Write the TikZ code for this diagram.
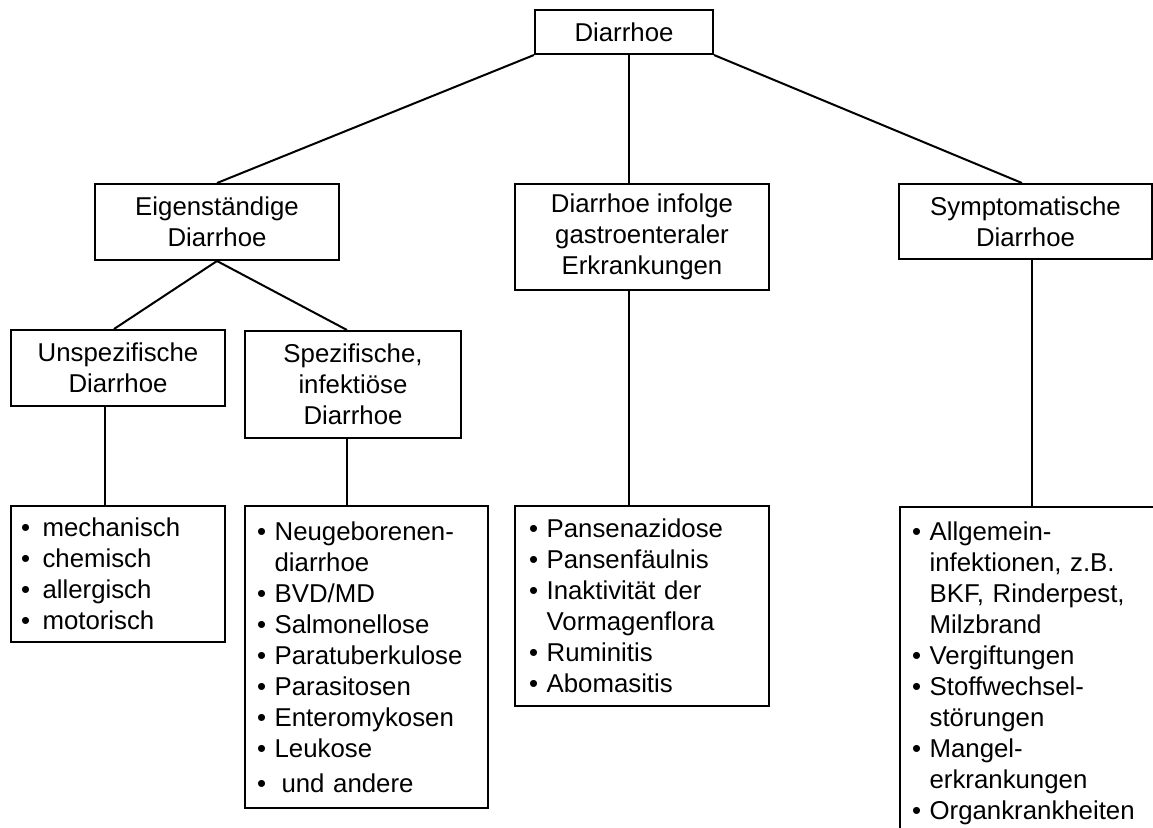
\documentclass[tikz,border=0pt]{standalone}
\usepackage{fontspec}
\setmainfont{Liberation Sans}

\newcommand{\bt}{\textbullet\ }
\newcommand{\bi}{\hphantom{\textbullet\ }}

\tikzset{
	box/.style={draw, line width=1pt, align=center, inner sep=0pt},
	liste/.style={draw, line width=1pt, align=left, inner ysep=0pt},
	conn/.style={line width=1pt}
}

\begin{document}
\begin{tikzpicture}[x=0.5pt,y=-0.5pt,font=\fontsize{12.9}{15.5}\selectfont]
	\useasboundingbox (0,0) rectangle (1153,827);
	\clip (0,0) rectangle (1153,827);

	% Kopf und Gruppen
	\node[box, minimum width=89pt, minimum height=22pt] (top) at (624,32) {Diarrhoe};
	\node[box, minimum width=122pt, minimum height=38pt] (eig) at (217,222) {Eigenständige\\Diarrhoe};
	\node[box, minimum width=127pt, minimum height=53pt] (gas) at (642,237) {Diarrhoe infolge\\gastroenteraler\\Erkrankungen};
	\node[box, minimum width=126.5pt, minimum height=37.5pt] (sym) at (1025.5,221.5) {Symptomatische\\Diarrhoe};
	\node[box, minimum width=107pt, minimum height=38pt] (uns) at (118,368) {Unspezifische\\Diarrhoe};
	\node[box, minimum width=108pt, minimum height=53.5pt] (spe) at (353,384.5) {Spezifische,\\infektiöse\\Diarrhoe};

	% Listen
	\node[liste, inner xsep=5pt, text width=97pt, minimum height=68pt] (l1) at (118,574) {%
		\textbullet\hspace{6.25pt}mechanisch\\
		\textbullet\hspace{6.25pt}chemisch\\
		\textbullet\hspace{6.25pt}allergisch\\
		\textbullet\hspace{6.25pt}motorisch};
	\node[liste, inner xsep=6pt, text width=109.5pt, minimum height=151pt] (l2) at (366.5,657) {%
		\bt Neugeborenen-\\
		\bi diarrhoe\\
		\bt BVD/MD\\
		\bt Salmonellose\\
		\bt Paratuberkulose\\
		\bt Parasitosen\\
		\bt Enteromykosen\\
		\bt Leukose\\[2pt]
		\textbullet\hspace{7.75pt}und andere};
	\node[liste, inner xsep=7pt, text width=113pt, minimum height=100pt] (l3) at (642,606) {%
		\bt Pansenazidose\\
		\bt Pansenfäulnis\\
		\bt Inaktivität der\\
		\bi Vormagenflora\\
		\bt Ruminitis\\
		\bt Abomasitis};
	\node[liste, inner xsep=6pt, inner ysep=7.5pt, text width=140pt, anchor=north west] (l4) at (899,506) {%
		\bt Allgemein-\\
		\bi infektionen, z.B.\\
		\bi BKF, Rinderpest,\\
		\bi Milzbrand\\
		\bt Vergiftungen\\
		\bt Stoffwechsel-\\
		\bi störungen\\
		\bt Mangel-\\
		\bi erkrankungen\\
		\bt Organkrankheiten};

	% Verbindungen
	\draw[conn] (top.south west) -- (eig.north);
	\draw[conn] ([xshift=2.5pt]top.south) -- ([xshift=-6.5pt]gas.north);
	\draw[conn] (top.south east) -- ([xshift=-1.75pt]sym.north);
	\draw[conn] (eig.south) -- ([xshift=-2pt]uns.north);
	\draw[conn] (eig.south) -- ([xshift=-3pt]spe.north);
	\draw[conn] ([xshift=-6.5pt]uns.south) -- ([xshift=-6.5pt]l1.north);
	\draw[conn] ([xshift=-3pt]spe.south) -- ([xshift=-9.75pt]l2.north);
	\draw[conn] ([xshift=-6.5pt]gas.south) -- ([xshift=-6.5pt]l3.north);
	\draw[conn] ([xshift=3.25pt]sym.south) -- ([xshift=66.5pt]l4.north west);
\end{tikzpicture}
\end{document}
